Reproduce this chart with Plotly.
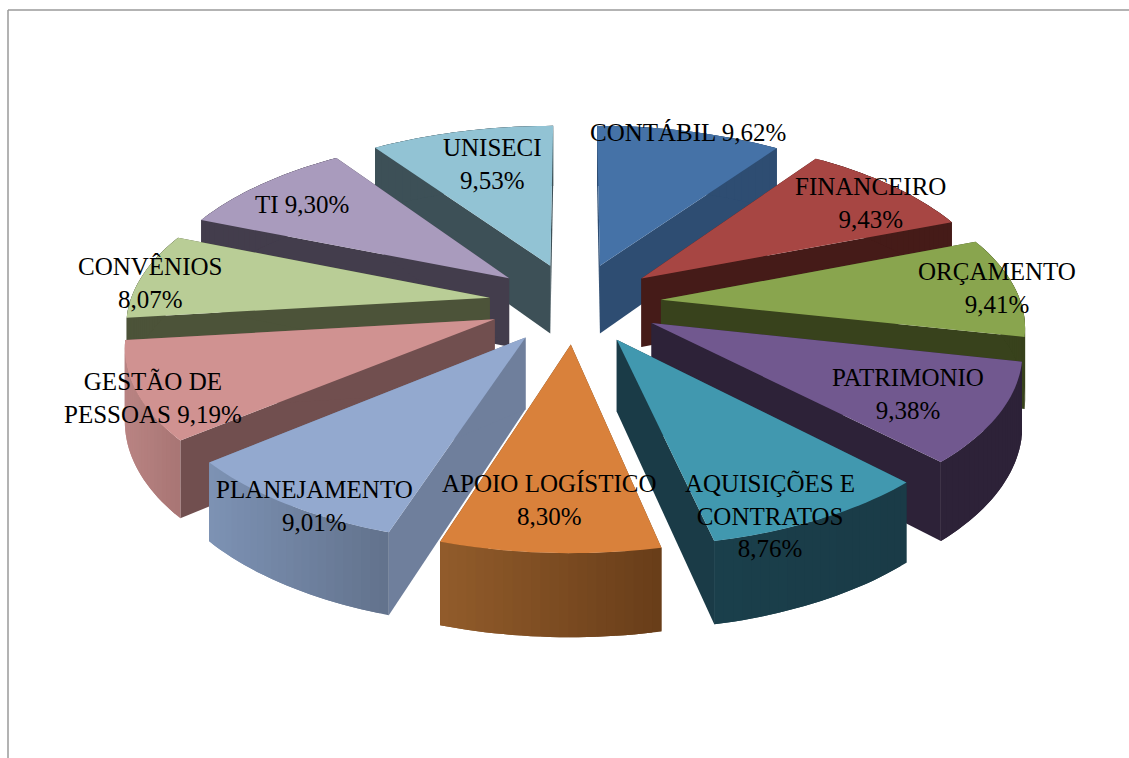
import numpy as np
import plotly.graph_objects as go

categories = ["CONTÁBIL", "FINANCEIRO", "ORÇAMENTO", "PATRIMONIO", "AQUISIÇÕES E CONTRATOS",
              "APOIO LOGÍSTICO", "PLANEJAMENTO", "GESTÃO DE PESSOAS", "CONVÊNIOS", "TI", "UNISECI"]
values = [9.62, 9.43, 9.41, 9.38, 8.76, 8.30, 9.01, 9.19, 8.07, 9.30, 9.53]
label_templates = ["CONTÁBIL {}", "FINANCEIRO<br>{}", "ORÇAMENTO<br>{}", "PATRIMONIO<br>{}",
                   "AQUISIÇÕES E<br>CONTRATOS<br>{}", "APOIO LOGÍSTICO<br>{}", "PLANEJAMENTO<br>{}",
                   "GESTÃO DE<br>PESSOAS {}", "CONVÊNIOS<br>{}", "TI {}", "UNISECI<br>{}"]

top_colors = ["#4572A7", "#A74643", "#89A54E", "#71588F", "#4198AF", "#D9813B",
              "#93A9CF", "#D09291", "#B9CD96", "#A99BBD", "#92C3D4"]
cut_colors = ["#2E4D72", "#451B18", "#38421C", "#2D2238", "#1A3B47", "#6A3F1A",
              "#6F7F9C", "#714F4F", "#4C5339", "#433D4C", "#3D5057"]
rim_left = ["#2E4D72", "#451B18", "#38421C", "#2D2238", "#1A3F4B", "#925C2B",
            "#7D92B4", "#B98483", "#4C5339", "#433D4C", "#3D5057"]
rim_right = ["#2E4D72", "#451B18", "#38421C", "#2D2238", "#1A3B47", "#683D19",
             "#62728C", "#A87574", "#4C5339", "#433D4C", "#3D5057"]
label_x = [688, 870, 997, 908, 770, 549, 314, 153, 150, 302, 492]
label_y = [132, 203, 288, 394, 516, 500, 506, 398, 283, 204, 164]

CX, CY, RX, RY, PERSP, DEPTH, EXPLODE = 575, 303, 360, 168, 0.135, 70, 0.24


def project(u, v, drop=0.0):
    s = 1.0 / (1.0 - PERSP * v)
    return CX + RX * u * s, CY + RY * v * s + drop * s


def hex_mix(a, b, t):
    ca = [int(a[i:i + 2], 16) for i in (1, 3, 5)]
    cb = [int(b[i:i + 2], 16) for i in (1, 3, 5)]
    return "#%02X%02X%02X" % tuple(round(x + (y - x) * t) for x, y in zip(ca, cb))


def poly(fig, xs, ys, color):
    fig.add_trace(go.Scatter(x=list(xs), y=list(ys), mode="none", fill="toself", fillcolor=color,
                             hoverinfo="skip", showlegend=False))


fig = go.Figure()
edges = np.cumsum([0] + values) / sum(values) * 2 * np.pi
slices = []
for i in range(len(values)):
    a0, a1 = edges[i], edges[i + 1]
    b = (a0 + a1) / 2
    slices.append((-np.cos(b), i, a0, a1, b))

for _, i, a0, a1, b in sorted(slices):
    ou, ov = EXPLODE * np.sin(b), -EXPLODE * np.cos(b)
    th = np.linspace(a0, a1, 25)
    u = ou + np.sin(th)
    v = ov - np.cos(th)
    # cut faces
    for k in (0, -1):
        x0, y0 = project(ou, ov)
        x1, y1 = project(u[k], v[k])
        x2, y2 = project(u[k], v[k], DEPTH)
        x3, y3 = project(ou, ov, DEPTH)
        poly(fig, [x0, x1, x2, x3, x0], [y0, y1, y2, y3, y0], cut_colors[i])
    # outer wall: each strip runs under the next one so no seams show
    xt, yt = project(u, v)
    xb, yb = project(u, v, DEPTH)
    left = xt.min()
    right = xt.max()
    for k in range(0, len(th) - 1):
        e = min(k + 2, len(th) - 1)
        t = (0.5 * (xt[k] + xt[k + 1]) - left) / max(right - left, 1)
        col = hex_mix(rim_left[i], rim_right[i], t)
        poly(fig, [*xt[k:e + 1], *xb[k:e + 1][::-1], xt[k]],
             [*yt[k:e + 1], *yb[k:e + 1][::-1], yt[k]], col)
    # top
    x0, y0 = project(ou, ov)
    poly(fig, [x0, *xt, x0], [y0, *yt, y0], top_colors[i])

for tpl, val, lx, ly in zip(label_templates, values, label_x, label_y):
    txt = tpl.format(f"{val:.2f}".replace(".", ",") + "%")
    fig.add_annotation(x=lx, y=ly, text=txt, showarrow=False, xanchor="center", yanchor="middle",
                       align="center", font=dict(family="Liberation Serif", size=25, color="#000000"))

border = dict(type="line", xref="x", yref="y", line=dict(color="#9A9A9A", width=1.5))
fig.add_shape(x0=8, y0=10, x1=1129, y1=10, **border)
fig.add_shape(x0=8, y0=10, x1=8, y1=758, **border)

fig.update_layout(width=1129, height=758, margin=dict(l=0, r=0, t=0, b=0), paper_bgcolor="white",
                  plot_bgcolor="white", showlegend=False,
                  xaxis=dict(visible=False, range=[0, 1129], fixedrange=True),
                  yaxis=dict(visible=False, range=[758, 0], fixedrange=True))
fig.write_html("out.html", config={"displayModeBar": False},
               post_script="document.body.style.margin='0';document.documentElement.style.overflow='hidden';")
